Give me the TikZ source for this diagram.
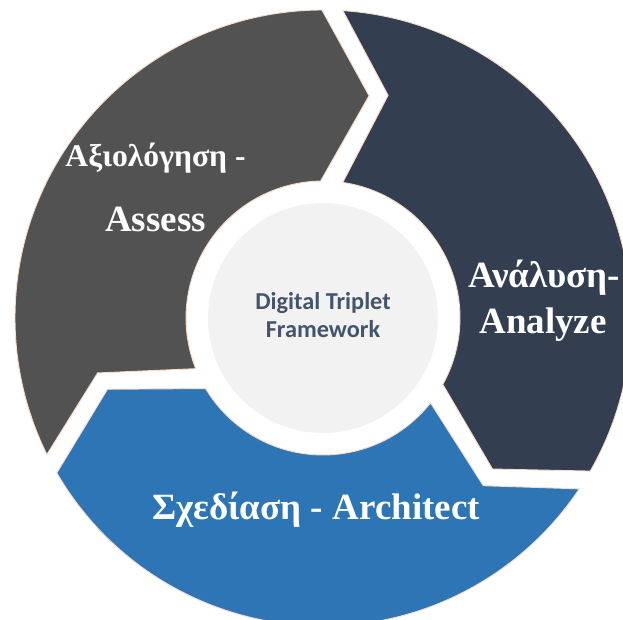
\documentclass[tikz,border=0pt]{standalone}
\usepackage{fontspec}
\setmainfont{Liberation Serif}
\newfontfamily\hubfont{Carlito}
\definecolor{segGray}{RGB}{82,82,82}
\definecolor{segDark}{RGB}{51,63,80}
\definecolor{segBlue}{RGB}{46,117,182}
\definecolor{segEdge}{RGB}{248,220,202}
\definecolor{hubFill}{RGB}{242,242,242}
\definecolor{hubText}{RGB}{68,84,106}
\tikzset{
  segment/.style={draw=segEdge, line width=0.9pt, line join=miter},
  label/.style={text=white, font=\bfseries\fontsize{37}{40}\selectfont, inner sep=0pt, anchor=base},
  hubtext/.style={text=hubText, font=\hubfont\bfseries\fontsize{24.3}{28}\selectfont, inner sep=0pt, anchor=base}
}
\begin{document}
\begin{tikzpicture}[x=1pt,y=1pt]
\useasboundingbox (0,0) rectangle (623,-620);
\clip (0,0) rectangle (623,-620);
\fill[white] (0,0) rectangle (623,-620);
\coordinate (C) at (323,-318);
\begin{scope}[shift={(C)}]
  % Assess (gray)
  \path[segment, fill=segGray]
    (206.3:308) -- (193.7:232) -- (201.7:137)
    arc[start angle=201.7, end angle=91, radius=137]
    -- (78.3:227) -- (90.2:308)
    arc[start angle=90.2, end angle=206.3, radius=308] -- cycle;
  % Analyze (dark)
  \path[segment, fill=segDark]
    (86.3:308) -- (73.7:232) -- (81.7:137)
    arc[start angle=81.7, end angle=-29, radius=137]
    -- (-41.7:227) -- (-29.8:308)
    arc[start angle=-29.8, end angle=86.3, radius=308] -- cycle;
  % Architect (blue)
  \path[segment, fill=segBlue]
    (-33.7:308) -- (-46.3:232) -- (-38.3:137)
    arc[start angle=-38.3, end angle=-149, radius=137]
    -- (-161.7:227) -- (-149.8:308)
    arc[start angle=-149.8, end angle=-33.7, radius=308] -- cycle;
  \fill[hubFill] (0,0) circle[radius=115];
\end{scope}
\node[label, font=\bfseries\fontsize{31.6}{35}\selectfont] (assessGr) at (155.5,-167) {Αξιολόγηση -};
\node[label] (assessEn) at (155.5,-232) {Assess};
\node[label] (analyzeGr) at (544,-287) {Ανάλυση-};
\node[label] (analyzeEn) at (543,-333) {Analyze};
\node[label] (architect) at (316,-519) {Σχεδίαση - Architect};
\node[hubtext] (hub1) at (323,-309) {Digital Triplet};
\node[hubtext] (hub2) at (323,-337) {Framework};
\end{tikzpicture}
\end{document}
